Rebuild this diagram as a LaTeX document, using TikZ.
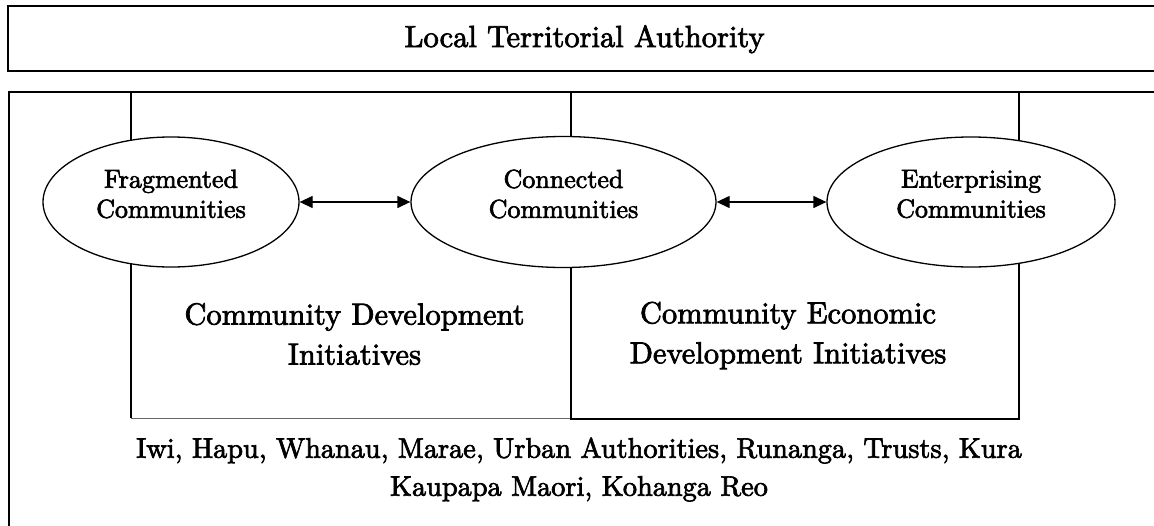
\documentclass[tikz,border=0pt]{standalone}
\usepackage{fontspec}
% text-size cut of Latin Modern, slightly emboldened, at every size
\setmainfont{lmroman10-regular}[Extension=.otf,FakeBold=2.4]
\usetikzlibrary{shapes.geometric,arrows.meta}
\begin{document}
\begin{tikzpicture}[x=1pt,y=-1pt,
  frame/.style={draw=black,line width=2pt},
  rule/.style={draw=black,line width=1.6pt},
  softrule/.style={draw=black!60,line width=1pt},
  community/.style={ellipse,draw=black,line width=1.3pt,fill=white,inner sep=0pt},
  ellipsetext/.style={align=center,inner sep=0pt,font=\fontsize{26}{30}\selectfont},
  bigtext/.style={align=center,inner sep=0pt,font=\fontsize{30.5}{40}\selectfont},
  link/.style={line width=1.3pt,{Triangle[length=13pt,width=12pt]}-{Triangle[length=13pt,width=12pt]}}
]
\useasboundingbox (0,0) rectangle (1154,525);
\clip (0,0) rectangle (1154,525);

% authority band and the community area below it
\draw[frame] (8,6) rectangle (1175,71);
\draw[frame] (9,92) rectangle (1175,545);
\node[bigtext,anchor=base] (lta) at (584.5,47) {Local Territorial Authority};

% the two initiative panels
\draw[rule] (131,92) -- (131,418);
\draw[softrule] (131,418) -- (571,418);
\draw[rule] (571,92) rectangle (1019,419);

\node[bigtext] (cdi) at (354.5,334) {Community Development\\Initiatives};
\node[bigtext] (cedi) at (788,335.5) {Community Economic\\Development Initiatives};

% community states
\node[community,minimum width=256pt,minimum height=130pt] (frag) at (171,202) {};
\node[community,minimum width=305pt,minimum height=131pt] (conn) at (563.5,202) {};
\node[community,minimum width=288pt,minimum height=130pt] (ent) at (971,202) {};

\node[ellipsetext] (fragtext) at ([yshift=8pt]frag.center) {Fragmented\\Communities};
\node[ellipsetext] (conntext) at ([yshift=8pt]conn.center) {Connected\\Communities};
\node[ellipsetext] (enttext) at ([yshift=8pt]ent.center) {Enterprising\\Communities};

\draw[link] (frag) -- (conn);
\draw[link] (conn) -- (ent);

% organisations at the base
\node[bigtext,font=\fontsize{28.3}{38}\selectfont] (orgs) at (579,469.5)
  {Iwi, Hapu, Whanau, Marae, Urban Authorities, Runanga, Trusts, Kura\\Kaupapa Maori, Kohanga Reo};
\end{tikzpicture}
\end{document}
